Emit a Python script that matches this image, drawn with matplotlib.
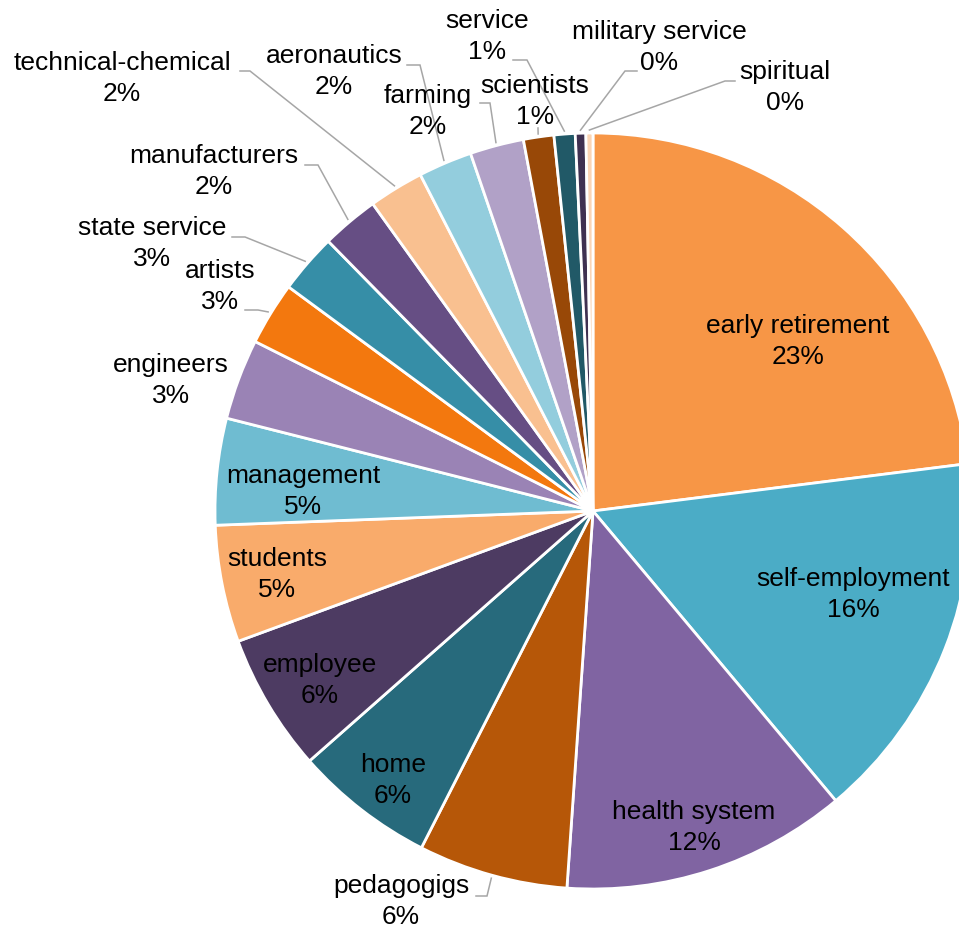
import math
import matplotlib
matplotlib.use("Agg")
import matplotlib.pyplot as plt

# Occupational groups, clockwise from 12 o'clock
categories = [
    "early retirement", "self-employment", "health system", "pedagogigs",
    "home", "employee", "students", "management", "engineers", "artists",
    "state service", "manufacturers", "technical-chemical", "aeronautics",
    "farming", "scientists", "service", "military service", "spiritual",
]
shares = [
    23.0, 15.9, 12.2, 6.4,
    6.0, 5.9, 5.0, 4.55, 3.45, 2.7,
    2.55, 2.45, 2.35, 2.3,
    2.3, 1.3, 0.9, 0.45, 0.3,
]
colors = [
    "#F79646", "#4BACC6", "#8064A2", "#B65708",
    "#276A7C", "#4D3B62", "#F9AB6B", "#6FBCD1", "#9A83B5", "#F3780E",
    "#368EA7", "#664E84", "#F9C090", "#93CDDD",
    "#B1A1C7", "#984807", "#215967", "#3F3151", "#FBD5B5",
]

# Label block centres (pixels, y measured from top)
label_pos = {
    "early retirement": (798, 342), "self-employment": (853, 595),
    "health system": (694, 828), "pedagogigs": (401, 902),
    "home": (393, 781), "employee": (320, 681), "students": (277, 575),
    "management": (303, 492), "engineers": (171, 381), "artists": (220, 287),
    "state service": (152, 244), "manufacturers": (214, 172),
    "technical-chemical": (122, 79), "aeronautics": (334, 72),
    "farming": (428, 112), "scientists": (535, 102), "service": (487, 37),
    "military service": (659, 48), "spiritual": (785, 88),
}
# Leader lines: text-side start point and elbow (pixels, y from top)
leaders = {
    "pedagogigs": ((476, 896), (487, 896)),
    "artists": ((245, 310), (258, 310)),
    "state service": ((232, 237), (245, 237)),
    "manufacturers": ((305, 165), (318, 165)),
    "technical-chemical": ((240, 71), (250, 71)),
    "aeronautics": ((407, 65), (420, 65)),
    "farming": ((480, 103), (490, 103)),
    "scientists": ((538, 128), (538, 128)),
    "service": ((513, 60), (527, 60)),
    "military service": ((637, 71), (625, 71)),
    "spiritual": ((735, 81), (725, 81)),
}

W, H = 959, 930
cx, cy, R = 593, 511, 378
name_base, pct_base = -9, 22  # baseline offsets from the label centre

fig = plt.figure(figsize=(W / 100, H / 100), dpi=100)
ax = fig.add_axes([0, 0, 1, 1])

wedges, _ = ax.pie(
    shares, colors=colors, startangle=90, counterclock=False,
    center=(cx, H - cy), radius=R,
    wedgeprops=dict(edgecolor="white", linewidth=2.0),
)
ax.set_xlim(0, W)
ax.set_ylim(0, H)
ax.set_aspect("equal")
ax.axis("off")

total = sum(shares)
font = dict(family=["Liberation Sans", "DejaVu Sans"], fontsize=19, color="black")

for name, val, w in zip(categories, shares, wedges):
    x, y = label_pos[name]
    ax.text(x, H - (y + name_base), name, ha="center", va="baseline", **font)
    ax.text(x, H - (y + pct_base), f"{val / total * 100:.0f}%",
            ha="center", va="baseline", **font)
    if name in leaders:
        (x0, y0), (x1, y1) = leaders[name]
        mid = math.radians((w.theta1 + w.theta2) / 2)
        ex = cx + (R + 3) * math.cos(mid)
        ey = (H - cy) + (R + 3) * math.sin(mid)
        ax.plot([x0, x1, ex], [H - y0, H - y1, ey], color="#A6A6A6", lw=1.1,
                solid_joinstyle="miter")

fig.savefig("out.png", dpi=100)
